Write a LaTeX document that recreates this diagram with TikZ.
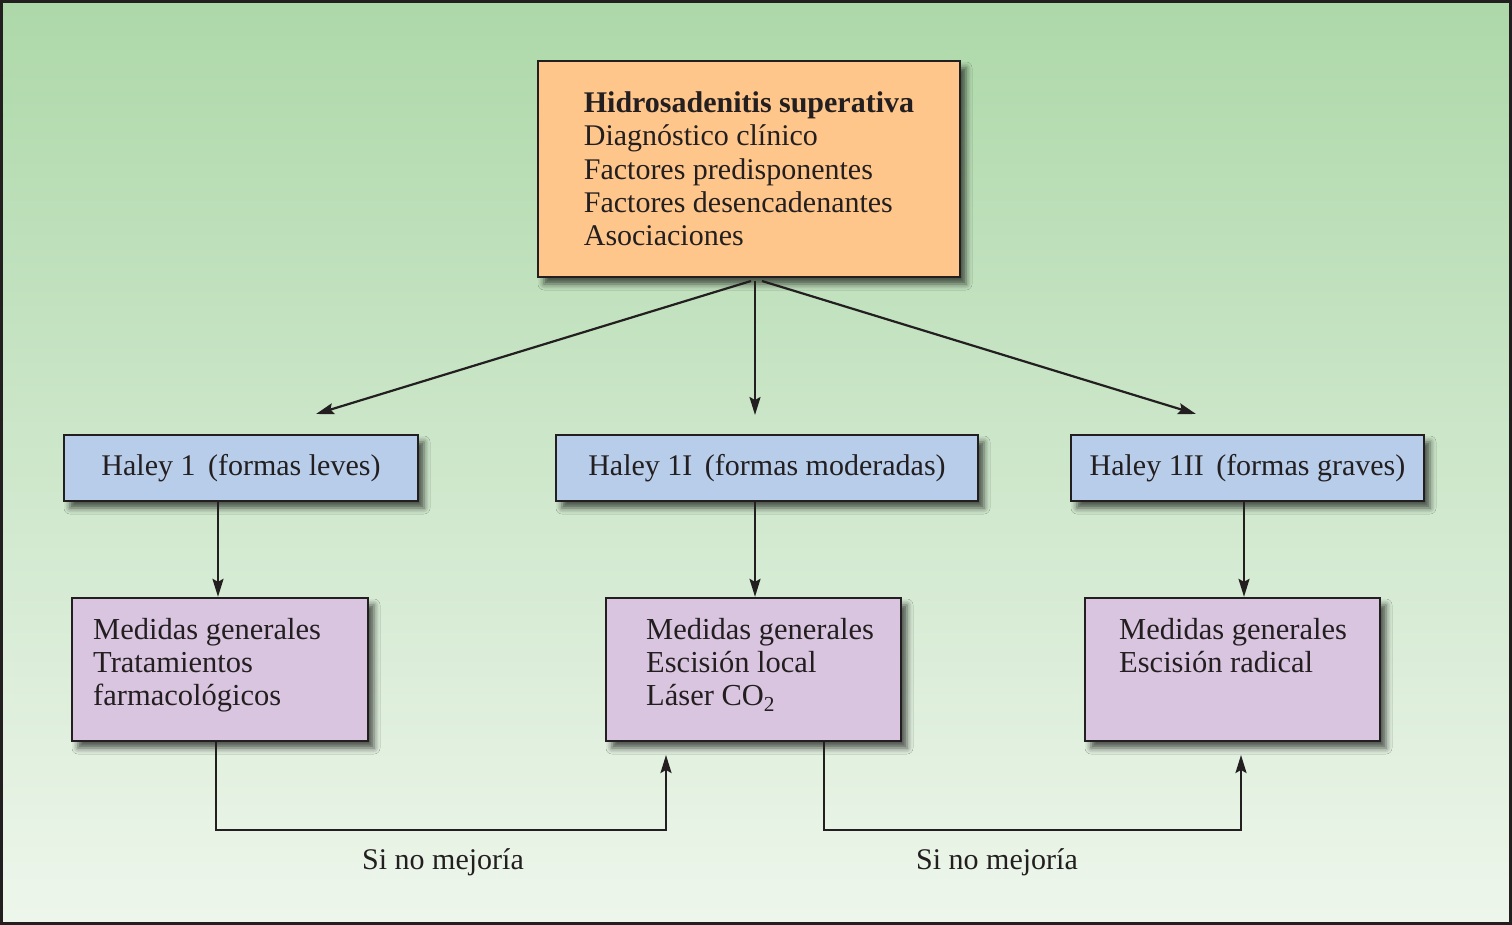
\documentclass[tikz,border=0pt]{standalone}
\usepackage{fontspec}
\setmainfont{Liberation Serif}
\usetikzlibrary{arrows.meta,shadows.blur,calc}
\definecolor{bgtop}{HTML}{ADD8A9}
\definecolor{bgbot}{HTML}{EEF6EC}
\definecolor{orangebox}{HTML}{FFC68B}
\definecolor{bluebox}{HTML}{B8CDEA}
\definecolor{purplebox}{HTML}{DAC5E0}
\definecolor{ink}{HTML}{231F20}
\begin{document}
\begin{tikzpicture}[x=1pt,y=1pt,
  box/.style={draw=ink, line width=2.3pt, rectangle, inner sep=0pt,
    blur shadow={shadow xshift=6pt, shadow yshift=-7pt, shadow blur radius=6pt, shadow opacity=65}},
  topbox/.style={box, fill=orangebox, minimum width=422pt, minimum height=216pt, align=left,
    font=\fontsize{30}{33.3}\selectfont, text=ink},
  haley/.style={box, fill=bluebox, minimum height=66pt, font=\fontsize{30}{33.3}\selectfont, text=ink},
  treat/.style={box, fill=purplebox, minimum width=296pt, minimum height=143pt},
  txt/.style={inner sep=0pt, align=left, anchor=north west, font=\fontsize{30.5}{33.3}\selectfont, text=ink},
  lbl/.style={inner sep=0pt, font=\fontsize{30}{33.3}\selectfont, text=ink},
  arr/.style={draw=ink, line width=2.2pt, -{Stealth[length=18pt,width=11pt,inset=3pt]}},
]
\useasboundingbox (0,0) rectangle (1512,-925);
\shade[top color=bgtop, bottom color=bgbot] (0,0) rectangle (1512,-925);
\draw[ink, line width=3pt] (1.5,-1.5) rectangle (1510.5,-923.5);

\node[topbox] (top) at (749,-169) {\textbf{Hidrosadenitis superativa}\\Diagnóstico clínico\\Factores predisponentes\\Factores desencadenantes\\Asociaciones};

\node[haley, minimum width=354pt] (h1) at (241,-468) {Haley 1 \,(formas leves)};
\node[haley, minimum width=422pt] (h2) at (767,-468) {Haley 1I \,(formas moderadas)};
\node[haley, minimum width=353pt] (h3) at (1247.5,-468) {Haley 1II \,(formas graves)};

\node[treat] (t1) at (220,-669.5) {};
\node[treat, minimum width=295pt] (t2) at (753.5,-669.5) {};
\node[treat, minimum width=295pt] (t3) at (1232.5,-669.5) {};
\node[txt] (t1t) at (93,-618) {Medidas generales\\Tratamientos\\farmacológicos};
\node[txt] (t2t) at (646,-618) {Medidas generales\\Escisión local\\Láser CO\textsubscript{2}};
\node[txt] (t3t) at (1119,-618) {Medidas generales\\Escisión radical};

\coordinate (s1) at (751,-281);
\coordinate (s2) at (755,-281);
\coordinate (s3) at (762,-281);
\coordinate (e1) at (316,-414);
\coordinate (e2) at (755,-415);
\coordinate (e3) at (1196,-414);
\draw[arr] (s1) -- (e1);
\draw[arr] (s2) -- (e2);
\draw[arr] (s3) -- (e3);

\draw[arr] ([xshift=-23pt]h1.south) -- ([xshift=-23pt]h1.south |- t1.north);
\draw[arr] ([xshift=-12pt]h2.south) -- ([xshift=-12pt]h2.south |- t2.north);
\draw[arr] ([xshift=-3.5pt]h3.south) -- ([xshift=-3.5pt]h3.south |- t3.north);

\coordinate (f1) at (666,-755);
\coordinate (f2) at (1241,-755);
\draw[arr] ([xshift=-4pt]t1.south) -- ++(0,-88) -| (f1);
\draw[arr] ([xshift=70.5pt]t2.south) -- ++(0,-88) -| (f2);

\node[lbl] (l1) at (443,-862) {Si no mejoría};
\node[lbl] (l2) at (997,-862) {Si no mejoría};
\end{tikzpicture}
\end{document}
